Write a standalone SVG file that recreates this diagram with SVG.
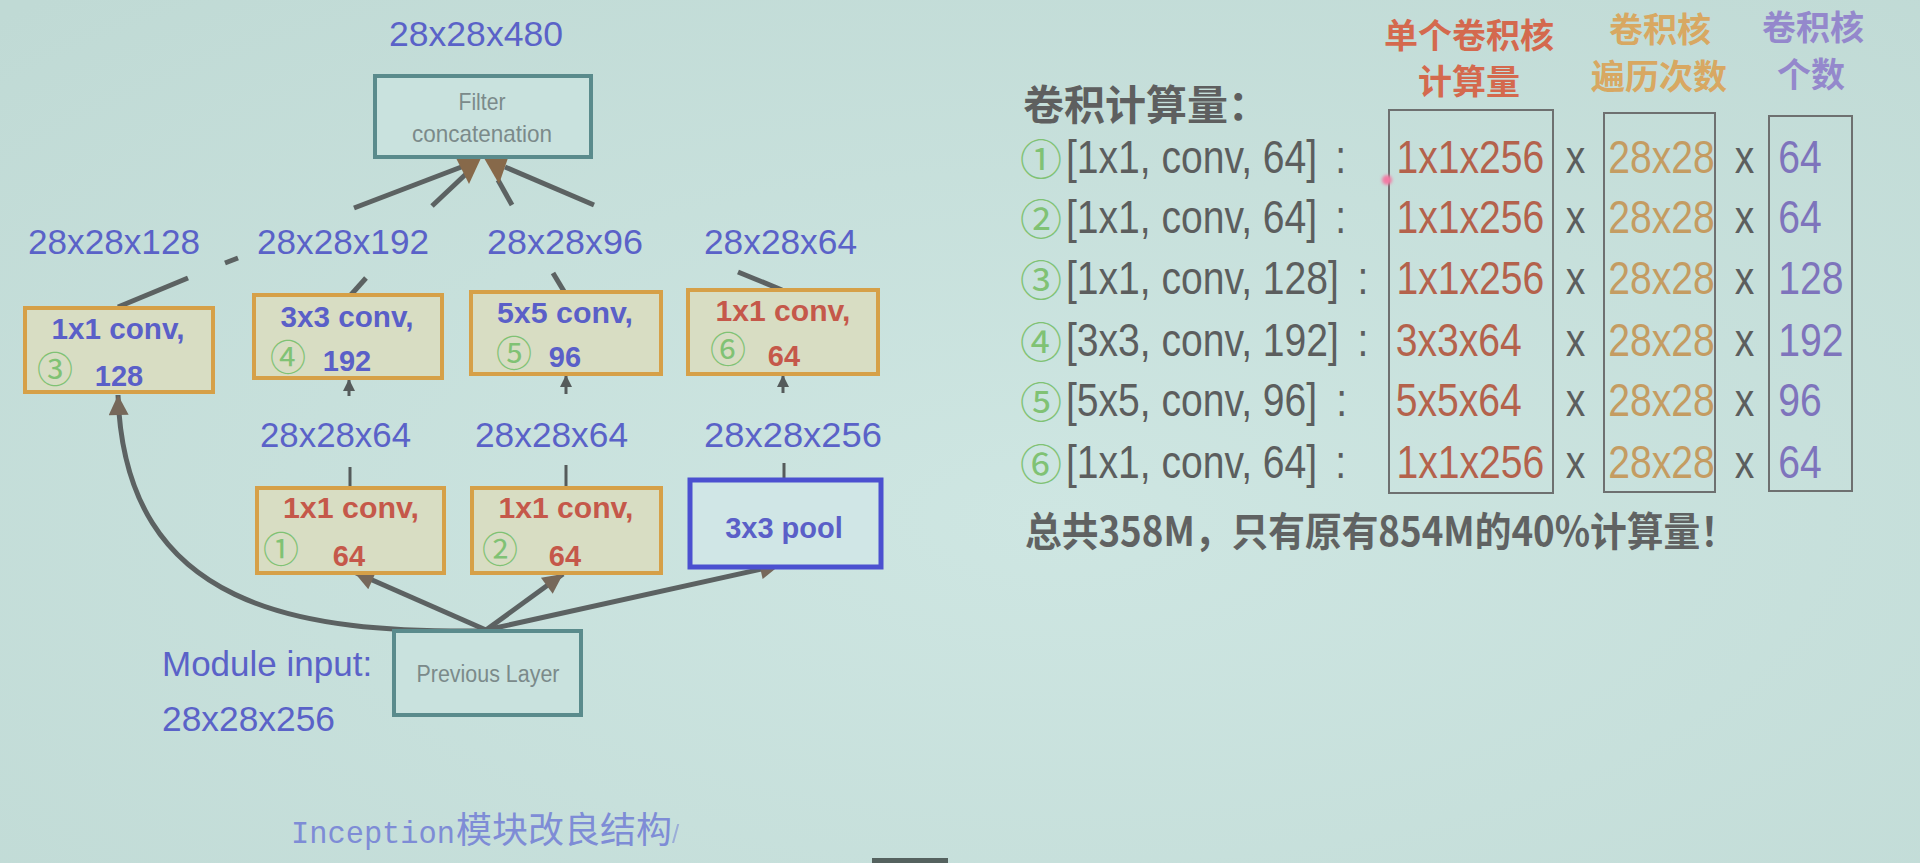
<svg xmlns="http://www.w3.org/2000/svg" width="1920" height="863" viewBox="0 0 1920 863">
  <defs>
    <radialGradient id="bg" cx="0.55" cy="0.6" r="0.8">
      <stop offset="0" stop-color="#cee6e2"/>
      <stop offset="1" stop-color="#c0dad5"/>
    </radialGradient>
    <marker id="arrowBig" viewBox="0 0 10 10" refX="10" refY="5" markerUnits="userSpaceOnUse" markerWidth="26" markerHeight="20" orient="auto">
      <path d="M0,0 L10,5 L0,10 z" fill="#76685a"/>
    </marker>
    <marker id="arrowSmall" viewBox="0 0 10 10" refX="10" refY="5" markerUnits="userSpaceOnUse" markerWidth="16" markerHeight="12" orient="auto">
      <path d="M0,0 L10,5 L0,10 z" fill="#555b5b"/>
    </marker>
    <filter id="soft" x="-50%" y="-50%" width="200%" height="200%">
      <feGaussianBlur stdDeviation="1.5"/>
    </filter>
    <style>
      .lbl { font-family: "Liberation Sans", Arial, sans-serif; font-size: 35px; fill: #5a62c8; }
      .conv { fill: #d8ddc3; stroke: #d6a048; stroke-width: 4; }
      .plain { fill: #c9e2de; stroke: #5a8b8c; stroke-width: 4; }
      .pool { fill: #d0e6e6; stroke: #4b50d0; stroke-width: 5; }
      .bt { font-family: "Liberation Sans", Arial, sans-serif; font-size: 29px; font-weight: bold; text-anchor: middle; }
      .blue { fill: #5a5fc8; }
      .red { fill: #c5584a; }
      .circ { font-family: "Noto Sans CJK SC", sans-serif; fill: #80c274; text-anchor: middle; }
      .gray { font-family: "Liberation Sans", Arial, sans-serif; fill: #7b8a8a; text-anchor: middle; }
      .edge { stroke: #5c6262; stroke-width: 5; fill: none; }
      .edgeThin { stroke: #555b5b; stroke-width: 3; fill: none; }
      .tb { font-family: "Liberation Sans", Arial, sans-serif; font-size: 46px; fill: #5c5e5e; }
      .cjk { font-family: "Noto Sans CJK SC", sans-serif; font-weight: bold; }
      .colA { fill: #b4624c; }
      .colB { fill: #c49c62; }
      .colC { fill: #7e74bc; }
      .frame { fill: none; stroke: #6e7070; stroke-width: 2; }
    </style>
  </defs>

  <!-- slide background -->
  <rect x="0" y="0" width="1920" height="863" fill="url(#bg)"/>
  <rect x="872" y="858" width="76" height="5" fill="#55625f"/>

  <!-- connectors -->
  <g id="connectors">
    <!-- into Filter concatenation -->
    <line class="edge" x1="118" y1="307" x2="188" y2="278"/>
    <line class="edge" x1="225" y1="263" x2="238" y2="258"/>
    <line class="edge" x1="354" y1="208" x2="464" y2="166"/>
    <line class="edge" x1="349" y1="297" x2="366" y2="278"/>
    <line class="edge" x1="432" y1="206" x2="466" y2="174"/>
    <line class="edge" x1="565" y1="293" x2="553" y2="273"/>
    <line class="edge" x1="512" y1="205" x2="498" y2="180"/>
    <line class="edge" x1="782" y1="290" x2="738" y2="272"/>
    <line class="edge" x1="594" y1="205" x2="505" y2="167"/>
    <polygon points="456,158 481,158 469,184" fill="#87694a"/>
    <polygon points="484,158 508,158 499,184" fill="#87694a"/>

    <!-- lower boxes up to upper boxes -->
    <line class="edgeThin" x1="350" y1="467" x2="350" y2="488"/>
    <line class="edgeThin" x1="566" y1="465" x2="566" y2="488"/>
    <line class="edgeThin" x1="784" y1="463" x2="784" y2="481"/>
    <line class="edgeThin" x1="349" y1="396" x2="349" y2="379" marker-end="url(#arrowSmall)"/>
    <line class="edgeThin" x1="566" y1="394" x2="566" y2="375" marker-end="url(#arrowSmall)"/>
    <line class="edgeThin" x1="783" y1="393" x2="783" y2="375" marker-end="url(#arrowSmall)"/>

    <!-- from Previous Layer -->
    <path class="edge" d="M486,631 C300,633 125,610 118,395" marker-end="url(#arrowBig)"/>
    <line class="edge" x1="486" y1="630" x2="354" y2="572" marker-end="url(#arrowBig)"/>
    <line class="edge" x1="486" y1="630" x2="563" y2="574" marker-end="url(#arrowBig)"/>
    <line class="edge" x1="486" y1="630" x2="780" y2="565" marker-end="url(#arrowBig)"/>
  </g>

  <!-- output size -->
  <g id="out-size">
    <text class="lbl" x="389" y="46" textLength="174" lengthAdjust="spacingAndGlyphs">28x28x480</text>
  </g>

  <g id="filter-concat">
    <rect class="plain" x="375" y="76" width="216" height="81"/>
    <text class="gray" x="482" y="110" font-size="24" textLength="47" lengthAdjust="spacingAndGlyphs">Filter</text>
    <text class="gray" x="482" y="142" font-size="24" textLength="140" lengthAdjust="spacingAndGlyphs">concatenation</text>
  </g>

  <g id="branch-sizes">
    <text class="lbl" x="28" y="254" textLength="172" lengthAdjust="spacingAndGlyphs">28x28x128</text>
    <text class="lbl" x="257" y="254" textLength="172" lengthAdjust="spacingAndGlyphs">28x28x192</text>
    <text class="lbl" x="487" y="254" textLength="156" lengthAdjust="spacingAndGlyphs">28x28x96</text>
    <text class="lbl" x="704" y="254" textLength="153" lengthAdjust="spacingAndGlyphs">28x28x64</text>
  </g>

  <g id="conv3">
    <rect class="conv" x="25" y="308" width="188" height="84"/>
    <text class="bt blue" x="118" y="339" textLength="133" lengthAdjust="spacingAndGlyphs">1x1 conv,</text>
    <text class="circ" x="55" y="383" font-size="36">③</text>
    <text class="bt blue" x="119" y="386">128</text>
  </g>

  <g id="conv4">
    <rect class="conv" x="254" y="295" width="188" height="83"/>
    <text class="bt blue" x="347" y="327" textLength="133" lengthAdjust="spacingAndGlyphs">3x3 conv,</text>
    <text class="circ" x="288" y="371" font-size="36">④</text>
    <text class="bt blue" x="347" y="371">192</text>
  </g>

  <g id="conv5">
    <rect class="conv" x="471" y="292" width="190" height="82"/>
    <text class="bt blue" x="565" y="323" textLength="136" lengthAdjust="spacingAndGlyphs">5x5 conv,</text>
    <text class="circ" x="514" y="367" font-size="36">⑤</text>
    <text class="bt blue" x="565" y="367">96</text>
  </g>

  <g id="conv6">
    <rect class="conv" x="688" y="290" width="190" height="84"/>
    <text class="bt red" x="783" y="321" textLength="135" lengthAdjust="spacingAndGlyphs">1x1 conv,</text>
    <text class="circ" x="728" y="363" font-size="36">⑥</text>
    <text class="bt red" x="784" y="366">64</text>
  </g>

  <g id="reduce-sizes">
    <text class="lbl" x="260" y="447" textLength="151" lengthAdjust="spacingAndGlyphs">28x28x64</text>
    <text class="lbl" x="475" y="447" textLength="153" lengthAdjust="spacingAndGlyphs">28x28x64</text>
    <text class="lbl" x="704" y="447" textLength="178" lengthAdjust="spacingAndGlyphs">28x28x256</text>
  </g>

  <g id="conv1">
    <rect class="conv" x="257" y="488" width="187" height="85"/>
    <text class="bt red" x="351" y="518" textLength="136" lengthAdjust="spacingAndGlyphs">1x1 conv,</text>
    <text class="circ" x="281" y="563" font-size="36">①</text>
    <text class="bt red" x="349" y="566">64</text>
  </g>

  <g id="conv2">
    <rect class="conv" x="472" y="488" width="189" height="85"/>
    <text class="bt red" x="566" y="518" textLength="135" lengthAdjust="spacingAndGlyphs">1x1 conv,</text>
    <text class="circ" x="500" y="563" font-size="36">②</text>
    <text class="bt red" x="565" y="566">64</text>
  </g>

  <g id="pool">
    <rect class="pool" x="690" y="480" width="191" height="87"/>
    <text class="bt blue" x="784" y="538" font-size="30">3x3 pool</text>
  </g>

  <g id="previous-layer">
    <rect class="plain" x="394" y="631" width="187" height="84"/>
    <text class="gray" x="488" y="682" font-size="23" textLength="143" lengthAdjust="spacingAndGlyphs">Previous Layer</text>
  </g>

  <g id="module-input">
    <text class="lbl" x="162" y="676">Module input:</text>
    <text class="lbl" x="162" y="731" textLength="173" lengthAdjust="spacingAndGlyphs">28x28x256</text>
  </g>

  <g id="caption" fill="#7e8cd6">
    <text x="291" y="843" font-family="Liberation Mono, monospace" font-size="32" textLength="164" lengthAdjust="spacingAndGlyphs">Inception</text>
    <text x="456" y="843" font-family="Noto Sans CJK SC, sans-serif" font-size="36">模块改良结构</text>
    <text x="672" y="843" font-family="Liberation Sans, sans-serif" font-size="26" opacity="0.6">/</text>
  </g>

  <!-- cost table -->
  <g id="cost-title">
    <text class="cjk" x="1023" y="120" font-size="41" fill="#5e5f5f">卷积计算量：</text>
  </g>

  <g id="headers" class="cjk" font-size="34" text-anchor="middle">
    <text x="1469" y="48" fill="#d4694e">单个卷积核</text>
    <text x="1469" y="94" fill="#d4694e">计算量</text>
    <text x="1660" y="42" fill="#d8a862">卷积核</text>
    <text x="1659" y="89" fill="#d8a862">遍历次数</text>
    <text x="1813" y="40" fill="#9488cc">卷积核</text>
    <text x="1811" y="87" fill="#9488cc">个数</text>
  </g>

  <g id="columns">
    <rect class="frame" x="1389" y="110" width="164" height="383"/>
    <rect class="frame" x="1604" y="113" width="111" height="379"/>
    <rect class="frame" x="1769" y="116" width="83" height="375"/>
  </g>

  <!-- circled row numbers -->
  <g id="row-numbers" class="circ" font-size="42">
    <text x="1041" y="175">①</text>
    <text x="1041" y="235">②</text>
    <text x="1041" y="296">③</text>
    <text x="1041" y="358">④</text>
    <text x="1041" y="418">⑤</text>
    <text x="1041" y="480">⑥</text>
  </g>

  <!-- table rows, set in a horizontally condensed face -->
  <g id="rows" class="tb" transform="scale(0.85 1)">
    <g id="row1">
      <text x="1254" y="173">[1x1, conv, 64]</text>
      <text x="1571" y="173">:</text>
      <text class="colA" x="1643" y="173">1x1x256</text>
      <text x="1842" y="173">x</text>
      <text class="colB" x="1892" y="173">28x28</text>
      <text x="2041" y="173">x</text>
      <text class="colC" x="2092" y="173">64</text>
    </g>
    <g id="row2">
      <text x="1254" y="233">[1x1, conv, 64]</text>
      <text x="1571" y="233">:</text>
      <text class="colA" x="1643" y="233">1x1x256</text>
      <text x="1842" y="233">x</text>
      <text class="colB" x="1892" y="233">28x28</text>
      <text x="2041" y="233">x</text>
      <text class="colC" x="2092" y="233">64</text>
    </g>
    <g id="row3">
      <text x="1254" y="294">[1x1, conv, 128]</text>
      <text x="1597" y="294">:</text>
      <text class="colA" x="1643" y="294">1x1x256</text>
      <text x="1842" y="294">x</text>
      <text class="colB" x="1892" y="294">28x28</text>
      <text x="2041" y="294">x</text>
      <text class="colC" x="2092" y="294">128</text>
    </g>
    <g id="row4">
      <text x="1254" y="356">[3x3, conv, 192]</text>
      <text x="1597" y="356">:</text>
      <text class="colA" x="1642" y="356">3x3x64</text>
      <text x="1842" y="356">x</text>
      <text class="colB" x="1892" y="356">28x28</text>
      <text x="2041" y="356">x</text>
      <text class="colC" x="2092" y="356">192</text>
    </g>
    <g id="row5">
      <text x="1254" y="416">[5x5, conv, 96]</text>
      <text x="1572" y="416">:</text>
      <text class="colA" x="1642" y="416">5x5x64</text>
      <text x="1842" y="416">x</text>
      <text class="colB" x="1892" y="416">28x28</text>
      <text x="2041" y="416">x</text>
      <text class="colC" x="2092" y="416">96</text>
    </g>
    <g id="row6">
      <text x="1254" y="478">[1x1, conv, 64]</text>
      <text x="1571" y="478">:</text>
      <text class="colA" x="1643" y="478">1x1x256</text>
      <text x="1842" y="478">x</text>
      <text class="colB" x="1892" y="478">28x28</text>
      <text x="2041" y="478">x</text>
      <text class="colC" x="2092" y="478">64</text>
    </g>
  </g>

  <g id="total">
    <text class="cjk" x="1025" y="546" font-size="40" fill="#606262" textLength="712" lengthAdjust="spacingAndGlyphs">总共358M，只有原有854M的40%计算量！</text>
  </g>

  <!-- laser pointer spot -->
  <circle cx="1387" cy="180" r="5" fill="#f27aa4" filter="url(#soft)"/>
</svg>
